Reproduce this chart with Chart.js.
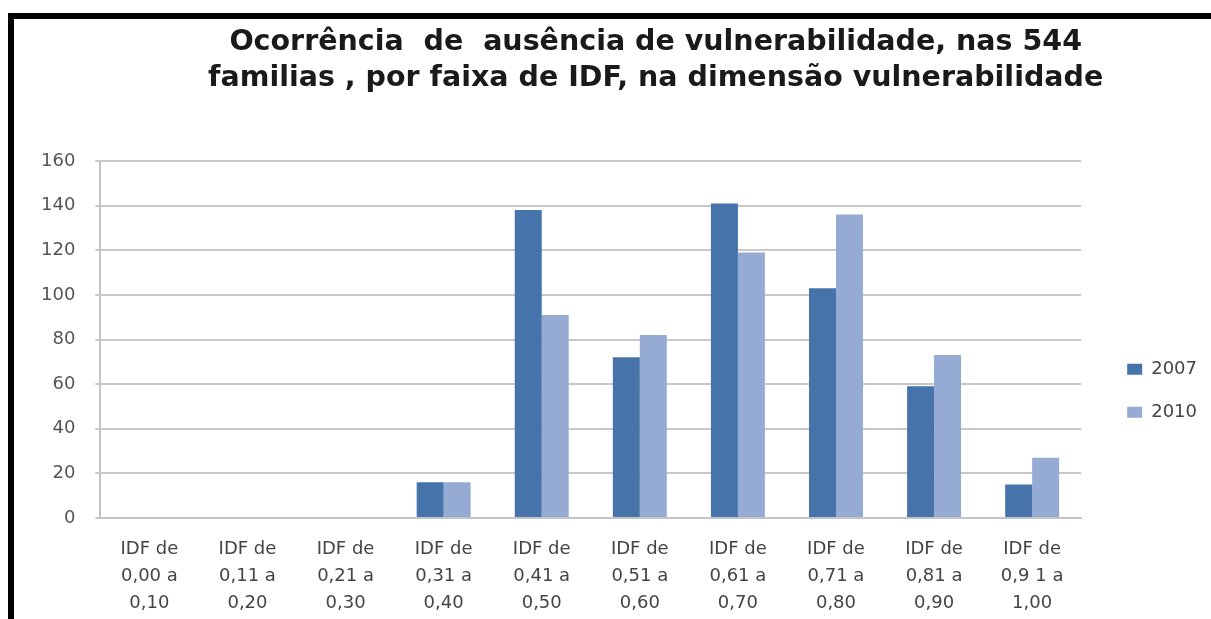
<!DOCTYPE html>
<html>
<head>
<meta charset="utf-8">
<script src="https://cdn.jsdelivr.net/npm/chart.js@4"></script>
<style>
  body { margin: 0; background: #fff; overflow: hidden; }
  #frame {
    position: absolute; left: 8px; top: 13px;
    width: 1197px; height: 620px;
    border-left: 6px solid #000; border-top: 6px solid #000;
  }
  canvas { display: block; }
</style>
</head>
<body>
<div id="frame"><canvas id="myChart" width="1197" height="616"></canvas></div>
<script>
// Chart data
const categories = [
    ['IDF de', '0,00 a', '0,10'],
    ['IDF de', '0,11 a', '0,20'],
    ['IDF de', '0,21 a', '0,30'],
    ['IDF de', '0,31 a', '0,40'],
    ['IDF de', '0,41 a', '0,50'],
    ['IDF de', '0,51 a', '0,60'],
    ['IDF de', '0,61 a', '0,70'],
    ['IDF de', '0,71 a', '0,80'],
    ['IDF de', '0,81 a', '0,90'],
    ['IDF de', '0,9 1 a', '1,00']
];
const values2007 = [0, 0, 0, 16, 138, 72, 141, 103, 59, 15];
const values2010 = [0, 0, 0, 16, 91, 82, 119, 136, 73, 27];
const titleLines = [
    'Ocorrência  de  ausência de vulnerabilidade, nas 544',
    'familias , por faixa de IDF, na dimensão vulnerabilidade'
];

// Title centred between plot left edge and canvas right edge
const titlePlugin = {
    id: 'sideTitle',
    afterDraw(chart) {
        const ctx = chart.ctx;
        const x = (chart.chartArea.left + chart.width) / 2;
        ctx.save();
        ctx.font = 'bold 28.5px "DejaVu Sans"';
        ctx.fillStyle = '#1a1a1a';
        ctx.textAlign = 'center';
        ctx.textBaseline = 'middle';
        titleLines.forEach((line, i) => ctx.fillText(line, x, 24 + i * 36));
        ctx.restore();
    }
};

const ctx = document.getElementById('myChart').getContext('2d');
const chart = new Chart(ctx, {
    type: 'bar',
    data: {
        labels: categories,
        datasets: [
            {
                label: '2007',
                data: values2007,
                backgroundColor: '#4674AA',
                categoryPercentage: 0.55,
                barPercentage: 1
            },
            {
                label: '2010',
                data: values2010,
                backgroundColor: '#95ABD4',
                categoryPercentage: 0.55,
                barPercentage: 1
            }
        ]
    },
    options: {
        responsive: false,
        animation: false,
        layout: {
            padding: { top: 142, left: 7, right: 4, bottom: 0 }
        },
        plugins: {
            title: { display: false },
            tooltip: { enabled: false },
            legend: {
                position: 'right',
                fullSize: false,
                // empty title only used to push the items down a bit
                title: { display: true, text: '', font: { size: 12 }, padding: { top: 0, bottom: 88 } },
                labels: {
                    font: { family: 'DejaVu Sans', size: 18 },
                    color: '#444',
                    boxWidth: 15,
                    boxHeight: 11,
                    padding: 25
                }
            }
        },
        scales: {
            x: {
                grid: { display: false, drawTicks: false },
                border: { color: '#c4c4c4', width: 2 },
                ticks: {
                    font: { family: 'DejaVu Sans', size: 18, lineHeight: 1.5 },
                    color: '#444',
                    padding: 18,
                    maxRotation: 0
                }
            },
            y: {
                min: 0,
                max: 160,
                ticks: {
                    stepSize: 20,
                    font: { family: 'DejaVu Sans', size: 18 },
                    color: '#555',
                    padding: 20
                },
                grid: { color: '#c8c8c8', lineWidth: 2, tickLength: 5 },
                border: { color: '#c4c4c4', width: 2 }
            },
            // empty axis keeping a gap between plot and legend
            gap: {
                type: 'linear',
                position: 'right',
                grid: { display: false, drawTicks: false },
                border: { display: false },
                ticks: { display: false },
                afterFit(scale) { scale.width = 21; }
            }
        }
    },
    plugins: [titlePlugin]
});
</script>
</body>
</html>
